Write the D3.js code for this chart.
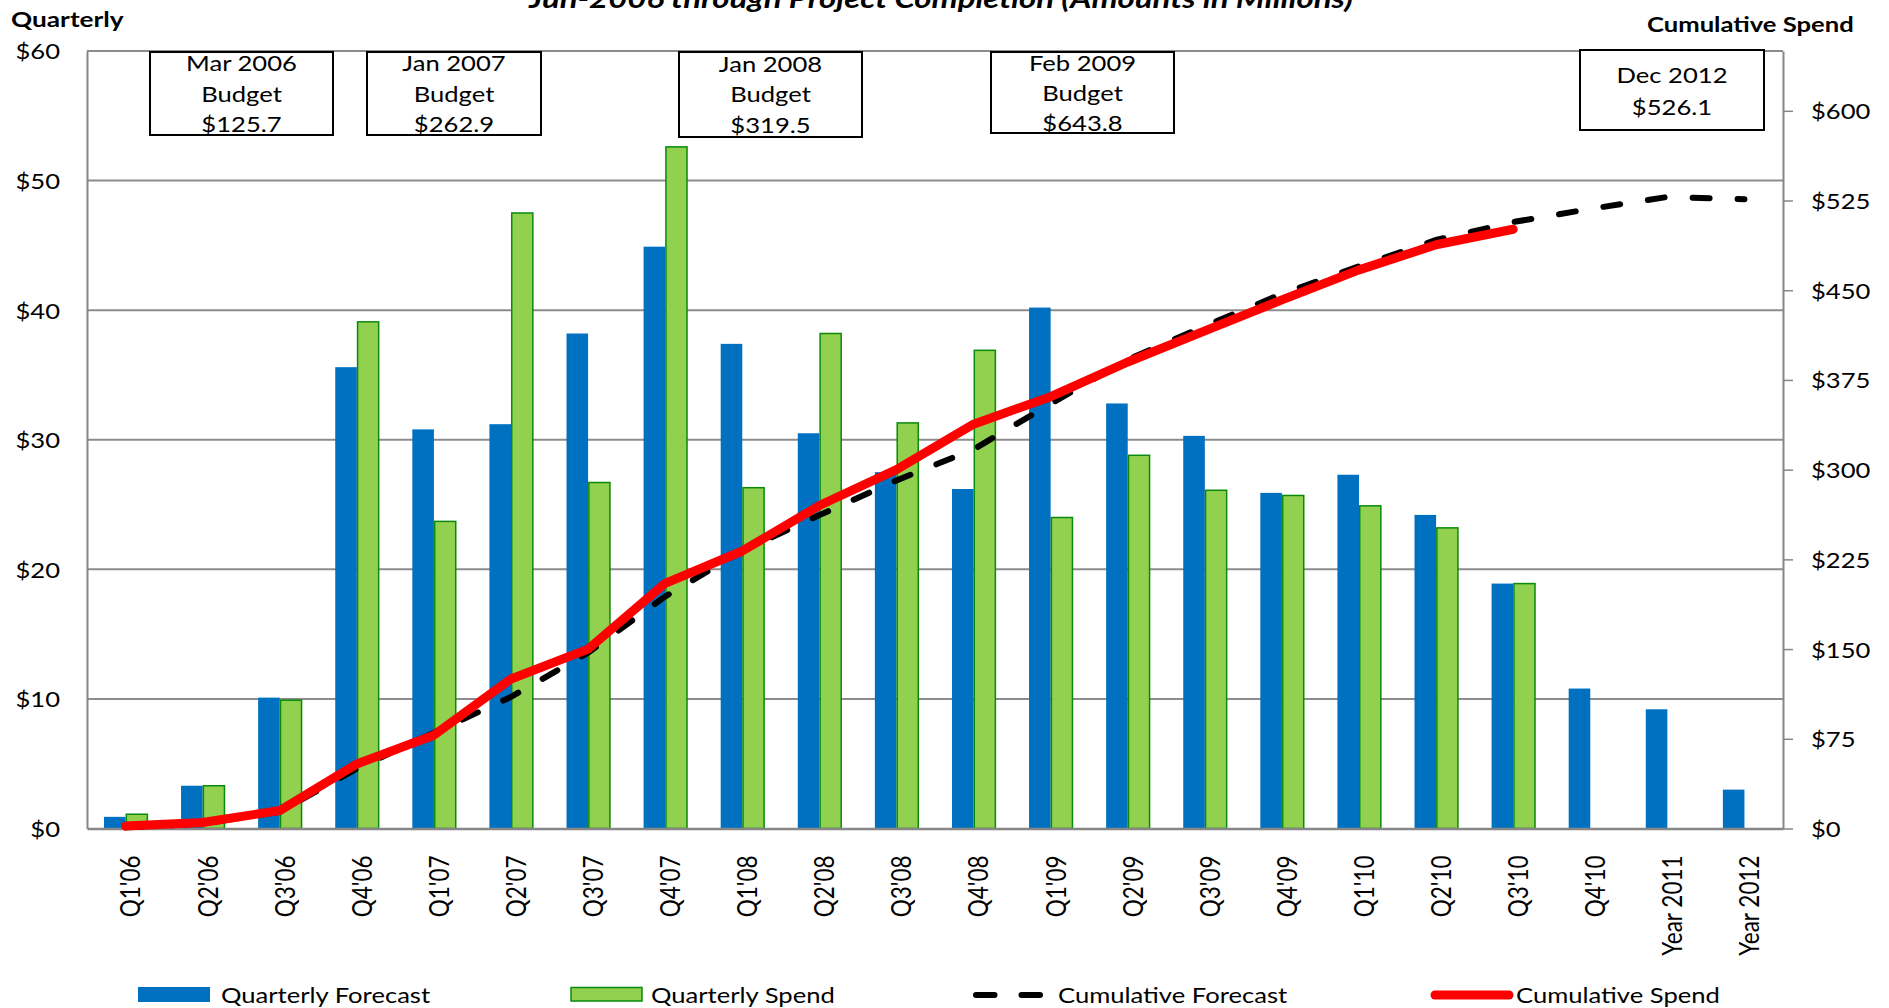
<!DOCTYPE html>
<html>
<head>
<meta charset="utf-8">
<script src="https://cdn.jsdelivr.net/npm/d3@7"></script>
<style>
body{margin:0;background:#fff;overflow:hidden;}
svg{display:block;font-family:Lato,'Open Sans',sans-serif;}
</style>
</head>
<body>
<div id="chart"></div>
<script>

const categories = ["Q1'06","Q2'06","Q3'06","Q4'06","Q1'07","Q2'07","Q3'07","Q4'07",
  "Q1'08","Q2'08","Q3'08","Q4'08","Q1'09","Q2'09","Q3'09","Q4'09",
  "Q1'10","Q2'10","Q3'10","Q4'10","Year 2011","Year 2012"]

// quarterly amounts, left axis ($M)
const quarterlyForecast = [0.9,3.3,10.1,35.6,30.8,31.2,38.2,44.9,37.4,30.5,27.5,26.2,40.2,32.8,30.3,25.9,27.3,24.2,18.9,10.8,9.2,3.0]
const quarterlySpend = [1.1,3.3,9.9,39.1,23.7,47.5,26.7,52.6,26.3,38.2,31.3,36.9,24.0,28.8,26.1,25.7,24.9,23.2,18.9]

// cumulative amounts, right axis ($M)
const cumulativeForecast = [1,4,14,50,80,110,147,194,232,262,291,317,355,392,420,447,470,492,507,518,528,526.1]
const cumulativeSpend = [2,5,15,54,78,125,150,205,232,270,300,338,361,390,416,442,467,488,501]

const leftTicks = [0,10,20,30,40,50,60]
const rightTicks = [0,75,150,225,300,375,450,525,600]

const budgetNotes = [
  ["Mar 2006","Budget","$125.7"],
  ["Jan 2007","Budget","$262.9"],
  ["Jan 2008","Budget","$319.5"],
  ["Feb 2009","Budget","$643.8"],
  ["Dec 2012","$526.1"]
]

const legendLabels = ["Quarterly Forecast","Quarterly Spend","Cumulative Forecast","Cumulative Spend"]

//------- layout -------
const width = 1889, height = 1008
const plot = {left:87, right:1783, top:51, bottom:828.5}
const S = 1.22 // the original is stretched sideways
const blue = '#0070C0', green = '#92D050', greenEdge = '#0A8A0A', gridCol = '#8C8C8C'

const noteBoxes = [
  {x:150, y:52, w:183, h:83, base:[71,102,132]},
  {x:367, y:52, w:174, h:83, base:[71,102,132]},
  {x:679, y:52, w:183, h:85, base:[72,102,133]},
  {x:991, y:52, w:183, h:81, base:[71,101,130.5]},
  {x:1580, y:50, w:184, h:80, base:[83,115]}
]
const legendPos = [138, 571, 973, 1431]
const legendText = [221, 651, 1058, 1516]

const svg = d3.select('#chart').append('svg')
.attr('width', width)
.attr('height', height)

const x = d3.scaleBand()
.domain(categories)
.range([plot.left, plot.right])
.paddingInner(0.44)
.paddingOuter(0.22)

const xs = d3.scaleBand()
.domain(['forecast','spend'])
.range([0, x.bandwidth()])

const yL = d3.scaleLinear().domain([0,60]).range([plot.bottom, plot.top])
const yR = d3.scaleLinear().domain([0,650]).range([plot.bottom, plot.top])

const cx = c => x(c) + x.bandwidth()/2

// stretched text helper
const stretch = (sel, tx, ty, extra='') => sel.attr('transform', `translate(${tx},${ty}) scale(${S},1)${extra}`)

// gridlines
svg.append('g')
.selectAll('line')
.data(leftTicks.filter(d => d > 0))
.enter()
.append('line')
.attr('x1', plot.left)
.attr('x2', plot.right)
.attr('y1', d => yL(d))
.attr('y2', d => yL(d))
.attr('stroke', gridCol)
.attr('stroke-width', 2)

// left axis
const gl = svg.append('g')
.attr('transform', `translate(${plot.left},0)`)
.call(d3.axisLeft(yL).tickValues(leftTicks).tickSize(0).tickSizeOuter(0).tickPadding(27).tickFormat(d => '$' + d))
gl.select('.domain').attr('stroke', '#868686').attr('stroke-width', 2)
gl.selectAll('text')
.attr('font-size', 21)
.attr('fill', '#000')
.attr('font-family', 'Lato')
.attr('dy', '0.38em')
.each(function(){
  const t = d3.select(this), ax = +t.attr('x')
  t.attr('transform', `translate(${ax},0) scale(${S},1) translate(${-ax},0)`)
})

// right axis
const gr = svg.append('g')
.attr('transform', `translate(${plot.right},0)`)
.call(d3.axisRight(yR).tickValues(rightTicks).tickSize(10).tickSizeOuter(0).tickPadding(18).tickFormat(d => '$' + d))
gr.select('.domain').attr('stroke', '#868686').attr('stroke-width', 2)
gr.selectAll('.tick line').attr('stroke', '#868686').attr('stroke-width', 1.5)
gr.selectAll('text')
.attr('font-size', 21)
.attr('fill', '#000')
.attr('font-family', 'Lato')
.attr('dy', '0.38em')
.each(function(){
  const t = d3.select(this), ax = +t.attr('x')
  t.attr('transform', `translate(${ax},0) scale(${S},1) translate(${-ax},0)`)
})

// bars
const bars = svg.append('g')

bars.selectAll('.fc')
.data(quarterlyForecast)
.enter()
.append('rect')
.attr('class', 'fc')
.attr('x', (d,i) => x(categories[i]) + xs('forecast'))
.attr('width', xs.bandwidth())
.attr('y', d => yL(d))
.attr('height', d => yL(0) - yL(d))
.attr('fill', blue)

bars.selectAll('.sp')
.data(quarterlySpend)
.enter()
.append('rect')
.attr('class', 'sp')
.attr('x', (d,i) => x(categories[i]) + xs('spend') + 0.75)
.attr('width', xs.bandwidth() - 0.5)
.attr('y', d => yL(d))
.attr('height', d => yL(0) - yL(d))
.attr('fill', green)
.attr('stroke', greenEdge)
.attr('stroke-width', 1.5)

// bottom axis
const gb = svg.append('g')
.attr('transform', `translate(0,${plot.bottom})`)
.call(d3.axisBottom(x).tickSize(0).tickSizeOuter(0))
gb.select('.domain').attr('stroke', '#868686').attr('stroke-width', 2.5)
gb.selectAll('text')
.attr('font-size', 22.5)
.attr('font-family', 'Lato')
.attr('fill', '#000')
.attr('text-anchor', 'end')
.attr('x', 0)
.attr('y', 0)
.attr('dy', '0.36em')
.attr('transform', `translate(5,27) scale(${S},1) rotate(-90)`)

// cumulative lines
const line = d3.line()
.x((d,i) => cx(categories[i]))
.y(d => yR(d))

svg.append('path')
.datum(cumulativeForecast)
.attr('d', line)
.attr('fill', 'none')
.attr('stroke', '#000')
.attr('stroke-width', 6)
.attr('stroke-linecap', 'round')
.attr('stroke-dasharray', '17,28')

svg.append('path')
.datum(cumulativeSpend)
.attr('d', line)
.attr('fill', 'none')
.attr('stroke', '#FF0000')
.attr('stroke-width', 9)
.attr('stroke-linecap', 'round')
.attr('stroke-linejoin', 'round')

// budget boxes
budgetNotes.forEach((lines, k) => {
  const b = noteBoxes[k]
  const g = svg.append('g')
  g.append('rect')
  .attr('x', b.x).attr('y', b.y).attr('width', b.w).attr('height', b.h)
  .attr('fill', '#fff').attr('stroke', '#000').attr('stroke-width', 2)
  lines.forEach((t, j) => {
    g.append('text')
    .text(t)
    .attr('font-size', 21)
    .attr('text-anchor', 'middle')
    .call(stretch, b.x + b.w/2, b.base[j])
  })
})

// titles (the top of the main title is clipped in the original too)
svg.append('text')
.text('Jun-2006 through Project Completion (Amounts in Millions)')
.attr('font-size', 27)
.attr('font-weight', 'bold')
.attr('font-style', 'italic')
.attr('text-anchor', 'middle')
.call(stretch, 941, 8)

svg.append('text')
.text('Quarterly')
.attr('font-size', 21.5)
.attr('font-weight', 'bold')
.call(stretch, 11, 27)

svg.append('text')
.text('Cumulative Spend')
.attr('font-size', 21)
.attr('font-weight', 'bold')
.call(stretch, 1647, 31.5)

// legend
const leg = svg.append('g')
leg.append('rect').attr('x', legendPos[0]).attr('y', 987).attr('width', 72).attr('height', 15).attr('fill', blue)
leg.append('rect').attr('x', legendPos[1]).attr('y', 987.5).attr('width', 71).attr('height', 13.5)
.attr('fill', green).attr('stroke', greenEdge).attr('stroke-width', 1.5)
leg.append('line').attr('x1', legendPos[2] + 3).attr('x2', legendPos[2] + 68).attr('y1', 995).attr('y2', 995)
.attr('stroke', '#000').attr('stroke-width', 6).attr('stroke-linecap', 'round').attr('stroke-dasharray', '18.5,27')
leg.append('line').attr('x1', legendPos[3] + 4).attr('x2', legendPos[3] + 78).attr('y1', 995).attr('y2', 995)
.attr('stroke', '#FF0000').attr('stroke-width', 9).attr('stroke-linecap', 'round')

legendLabels.forEach((t, k) => {
  leg.append('text')
  .text(t)
  .attr('font-size', 21)
  .call(stretch, legendText[k], 1003)
})

</script>
</body>
</html>
